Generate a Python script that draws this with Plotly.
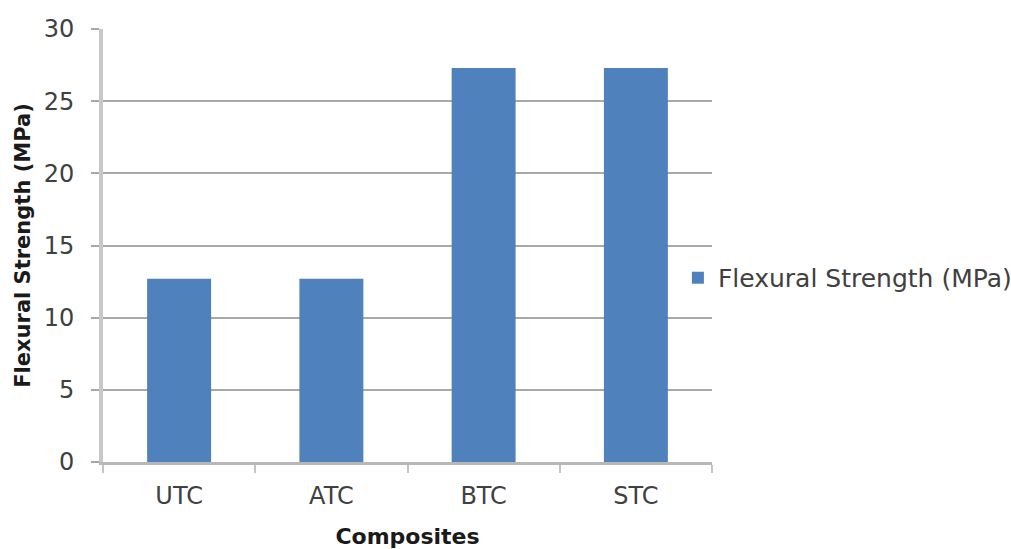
import plotly.graph_objects as go

# Flexural strength of the four composites
composites = ["UTC", "ATC", "BTC", "STC"]
flexural_strength = [12.7, 12.7, 27.3, 27.3]
series_name = "Flexural Strength (MPa)"
y_ticks = [0, 5, 10, 15, 20, 25, 30]

FONT = "DejaVu Sans"
GRID = "#a8a8a8"

fig = go.Figure(
    go.Bar(
        x=composites,
        y=flexural_strength,
        name=series_name,
        marker=dict(color="#4f81bd", line=dict(width=0)),
        showlegend=True,
    )
)

fig.update_layout(
    width=1011,
    height=549,
    margin=dict(l=103, r=299, t=29, b=87, autoexpand=False),
    paper_bgcolor="white",
    plot_bgcolor="white",
    bargap=0.58,
    font=dict(family=FONT, size=24, color="#404040"),
    showlegend=True,
    legend=dict(
        x=0.944,
        y=0.425,
        xanchor="left",
        yanchor="middle",
        bgcolor="rgba(0,0,0,0)",
        font=dict(family=FONT, size=25, color="#404040"),
        itemclick=False,
    ),
    xaxis=dict(
        type="category",
        showgrid=False,
        showline=True,
        linecolor="#b8b8b8",
        linewidth=3,
        ticks="outside",
        tickson="boundaries",
        ticklen=8,
        tickwidth=2,
        tickcolor="#c4c4c4",
        ticklabelstandoff=10,
        title=dict(
            text="<b>Composites</b>",
            font=dict(family=FONT, size=22, color="#1a1a1a"),
            standoff=22,
        ),
        automargin=False,
    ),
    yaxis=dict(
        range=[0, 30],
        tickvals=y_ticks,
        showgrid=True,
        gridcolor=GRID,
        gridwidth=2,
        zeroline=False,
        showline=True,
        linecolor="#c8c8c8",
        linewidth=4,
        ticks="outside",
        ticklen=8,
        tickwidth=2,
        tickcolor=GRID,
        ticklabelstandoff=12,
        title=dict(
            text="<b>Flexural Strength (MPa)</b>",
            font=dict(family=FONT, size=21, color="#1a1a1a"),
            standoff=8,
        ),
        automargin=False,
    ),
)

fig.write_html("out.html")
